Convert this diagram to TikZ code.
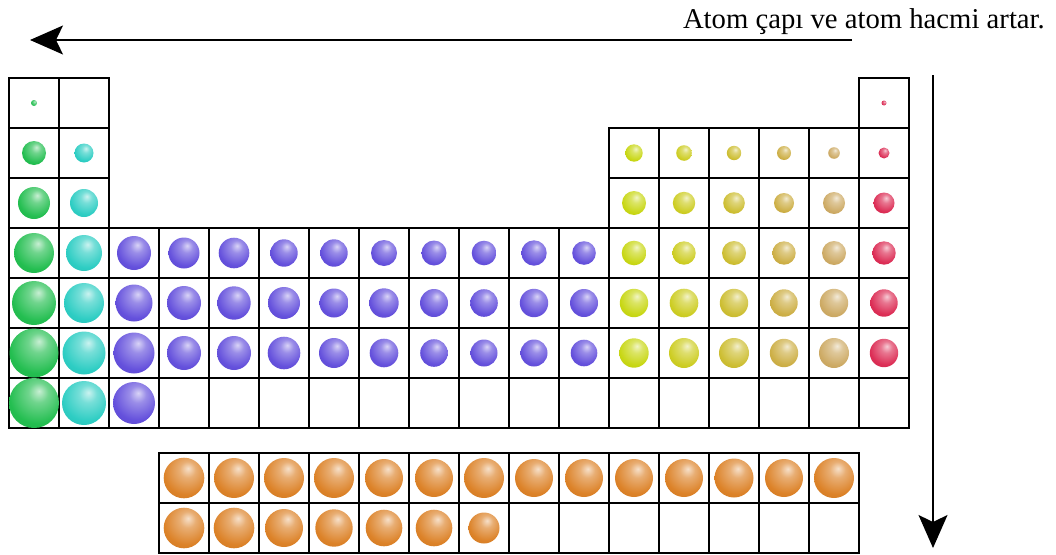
\documentclass[tikz,border=0pt]{standalone}
\usepackage{fontspec}
\setmainfont{Liberation Serif}
\usetikzlibrary{arrows.meta}

% group colours
\definecolor{gA}{RGB}{35,190,80}
\definecolor{gB}{RGB}{45,205,195}
\definecolor{dblk}{RGB}{100,80,220}
\definecolor{pA}{RGB}{200,215,20}
\definecolor{pB}{RGB}{205,205,35}
\definecolor{pC}{RGB}{205,190,50}
\definecolor{pD}{RGB}{205,175,70}
\definecolor{pE}{RGB}{205,170,100}
\definecolor{ngas}{RGB}{220,45,85}
\definecolor{fblk}{RGB}{220,130,40}
\colorlet{ballc}{gA}

% soft sphere shading with an upper highlight
\pgfdeclareradialshading[ballc]{softball}{\pgfpoint{5bp}{12bp}}{%
  color(0bp)=(ballc!25!white); color(10bp)=(ballc!65!white);
  color(28bp)=(ballc); color(50bp)=(ballc!88!black);
  color(62bp)=(ballc!75!black); color(75bp)=(ballc!75!black)}

\tikzset{
  cell/.style={draw=black, line width=1.5pt, minimum size=50pt, inner sep=0pt},
  sball/.style={/utils/exec={\colorlet{ballc}{#1}}, shading=softball},
  axisarrow/.style={line width=1.3pt, -{Stealth[length=33pt, width=29pt, inset=7pt]}},
}

\begin{document}
\begin{tikzpicture}[x=1pt, y=-1pt]
\useasboundingbox (0,0) rectangle (1056,554);

% main table cells
\foreach \c in {1,2,18} \node[cell] (c-1-\c) at ({50*\c-16},103) {};
\foreach \r in {2,3} \foreach \c in {1,2,13,14,15,16,17,18}
  \node[cell] (c-\r-\c) at ({50*\c-16},{50*\r+53}) {};
\foreach \r in {4,5,6,7} \foreach \c in {1,...,18}
  \node[cell] (c-\r-\c) at ({50*\c-16},{50*\r+53}) {};
% lanthanide / actinide rows
\foreach \r/\y in {1/478,2/528} \foreach \k in {1,...,14}
  \node[cell] (f-\r-\k) at ({50*\k+134},\y) {};

% group 1 and 2
\foreach \r/\rad in {1/3,2/12,3/16,4/20,5/22,6/24.5,7/25}
  \shade[sball=gA] (c-\r-1.center) circle[radius=\rad pt];
\foreach \r/\rad in {2/9.5,3/14,4/18,5/20,6/21.5,7/22}
  \shade[sball=gB] (c-\r-2.center) circle[radius=\rad pt];

% transition metals
\foreach \c/\ra/\rb/\rc in {3/17/18.5/20.5,4/15.5/17/17,5/15.3/16.7/17,6/13.7/16/16.3,
    7/13.7/14.5/15,8/13/14.7/14.3,9/12.5/14/13.8,10/12.3/13.8/13.5,11/12.7/14.2/13.5,12/11.8/14/13.3}{
  \shade[sball=dblk] (c-4-\c.center) circle[radius=\ra pt];
  \shade[sball=dblk] (c-5-\c.center) circle[radius=\rb pt];
  \shade[sball=dblk] (c-6-\c.center) circle[radius=\rc pt];
}
\shade[sball=dblk] (c-7-3.center) circle[radius=21pt];

% p-block
\foreach \c/\col/\ra/\rb/\rc/\rd/\re in {13/pA/8.7/12/12.3/14.2/14.7,14/pB/7.8/11.2/11.7/14.3/15,
    15/pC/7.2/10.8/12/14.2/15,16/pD/7/10/11.7/13.7/14.2,17/pE/5.8/11/12/14.2/15,18/ngas/5.5/10.5/11.7/13.7/14.2}{
  \shade[sball=\col] (c-2-\c.center) circle[radius=\ra pt];
  \shade[sball=\col] (c-3-\c.center) circle[radius=\rb pt];
  \shade[sball=\col] (c-4-\c.center) circle[radius=\rc pt];
  \shade[sball=\col] (c-5-\c.center) circle[radius=\rd pt];
  \shade[sball=\col] (c-6-\c.center) circle[radius=\re pt];
}
\shade[sball=ngas] (c-1-18.center) circle[radius=2.5pt];

% f-block
\foreach \k/\rad in {1/20.3,2/20,3/20,4/20,5/19,6/19,7/20,8/19,9/19,10/19,11/19,12/19.5,13/19,14/20}
  \shade[sball=fblk] (f-1-\k.center) circle[radius=\rad pt];
\foreach \k/\rad in {1/20.3,2/20.3,3/19,4/18.7,5/18.3,6/18.3,7/15.5}
  \shade[sball=fblk] (f-2-\k.center) circle[radius=\rad pt];

% trend arrows and caption
\node[anchor=base east, font=\fontsize{28.7}{32}\selectfont, inner sep=0pt] (cap) at (1045,28)
  {Atom çapı ve atom hacmi artar.};
\coordinate (hs) at (852,40);
\coordinate (he) at (30,40);
\draw[axisarrow] (hs) -- (he);
\coordinate (vs) at (933,75);
\coordinate (ve) at (933,548);
\draw[axisarrow] (vs) -- (ve);
\end{tikzpicture}
\end{document}
